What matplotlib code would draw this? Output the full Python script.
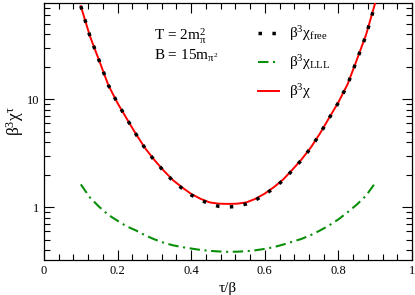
import numpy as np
import matplotlib
matplotlib.use("Agg")
import matplotlib.pyplot as plt
from matplotlib.ticker import LogLocator, NullFormatter

plt.rcParams['font.family'] = ['Liberation Serif', 'DejaVu Serif']
plt.rcParams['mathtext.fontset'] = 'custom'
plt.rcParams['mathtext.rm'] = 'Liberation Serif'
plt.rcParams['mathtext.it'] = 'Liberation Serif:italic'
plt.rcParams['mathtext.bf'] = 'Liberation Serif:bold'

# data
tau = [0.100, 0.125, 0.150, 0.175, 0.200, 0.225, 0.250, 0.275, 0.300,
       0.325, 0.350, 0.375, 0.400, 0.425, 0.450, 0.475, 0.500, 0.525,
       0.550, 0.575, 0.600, 0.625, 0.650, 0.675, 0.700, 0.725, 0.750,
       0.775, 0.800, 0.825, 0.850, 0.875, 0.900]

chi_free = [73.0, 38.3, 22.8, 13.5, 9.2, 6.6, 4.75, 3.5, 2.72,
            2.17, 1.76, 1.50, 1.30, 1.17, 1.075, 1.02, 1.005, 1.02,
            1.075, 1.17, 1.31, 1.51, 1.78, 2.2, 2.75, 3.55, 4.8,
            6.7, 9.3, 13.7, 23.0, 39.0, 76.0]

chi_lll = [1.63, 1.23, 1.01, 0.85, 0.75, 0.665, 0.61, 0.55, 0.505,
           0.47, 0.445, 0.428, 0.415, 0.403, 0.395, 0.39, 0.387, 0.388,
           0.392, 0.40, 0.412, 0.428, 0.452, 0.48, 0.51, 0.553, 0.61,
           0.68, 0.773, 0.90, 1.06, 1.28, 1.68]

chi_tot = [73.0, 38.3, 22.8, 13.5, 9.2, 6.6, 4.76, 3.52, 2.74,
           2.19, 1.79, 1.53, 1.33, 1.20, 1.11, 1.08, 1.075, 1.08,
           1.11, 1.20, 1.34, 1.54, 1.81, 2.23, 2.78, 3.58, 4.83,
           6.75, 9.4, 13.8, 23.2, 39.5, 78.0]

fig = plt.figure(figsize=(4.15, 2.95), dpi=100)
ax = fig.add_axes([44/415, 1 - 260/295, 368/415, 257/295])

ax.plot(tau, chi_free, color='black', lw=2.5, linestyle=(0, (1, 3)),
        label=r'$\mathrm{β^{3}χ_{free}}$', zorder=4)
ax.plot(tau, chi_lll, color='#0a8f0a', lw=1.5, linestyle=(0, (5, 2.2, 1, 2.2)),
        label=r'$\mathrm{β^{3}χ_{LLL}}$', zorder=3)
ax.plot(tau, chi_tot, color='red', lw=1.4, label=r'$\mathrm{β^{3}χ}$', zorder=3)

ax.set_yscale('log')
ax.set_xlim(0, 1)
ax.set_ylim(0.325, 78)
ax.set_xticks([0, 0.2, 0.4, 0.6, 0.8, 1.0])
ax.set_xticklabels(['0', '0.2', '0.4', '0.6', '0.8', '1'])
ax.set_xticks(np.arange(0, 1.0001, 0.04), minor=True)
ax.set_yticks([1, 10])
ax.set_yticklabels(['1', '10'])
ax.yaxis.set_minor_locator(LogLocator(base=10, subs=np.arange(2, 10), numticks=20))
ax.yaxis.set_minor_formatter(NullFormatter())

ax.tick_params(which='both', direction='in', top=True, right=True,
               labelsize=9, width=0.8)
ax.tick_params(which='major', length=7)
ax.tick_params(which='minor', length=4)
for s in ax.spines.values():
    s.set_linewidth(0.9)

ax.set_xlabel('τ/β', fontsize=11, labelpad=4)
ax.set_ylabel(r'$\mathrm{β^{3}χ^{τ}}$', fontsize=12.5)
ax.yaxis.set_label_coords(-0.048, 0.54)

ax.text(154/415, 1 - 40/295, r'T = 2m$_{\mathrm{π}}^{\mathrm{2}}$', fontsize=11,
        transform=fig.transFigure)
ax.text(154/415, 1 - 60/295, r'B = 15m$_{\mathrm{π^{2}}}$', fontsize=11,
        transform=fig.transFigure)

ax.legend(loc='upper left', bbox_to_anchor=(0.565, 0.94), frameon=False,
          fontsize=11, handlelength=1.4, handletextpad=0.6, labelspacing=0.65,
          borderaxespad=0)

fig.savefig('out.png', dpi=100)
